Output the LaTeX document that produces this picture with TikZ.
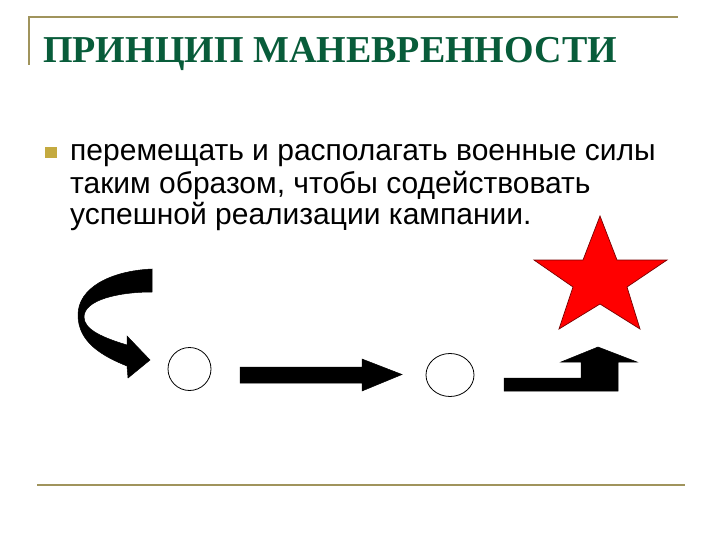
\documentclass[tikz,border=0pt]{standalone}
\usepackage{fontspec}
\usetikzlibrary{shapes.geometric}
\setmainfont{Liberation Serif}
\newfontfamily\bodyfont{Liberation Sans}
\definecolor{rulecol}{RGB}{160,148,92}
\definecolor{titlecol}{RGB}{8,92,58}
\definecolor{bulletcol}{RGB}{196,170,64}
\definecolor{starred}{RGB}{255,0,0}
\definecolor{stardraw}{RGB}{120,0,0}
\begin{document}
\begin{tikzpicture}[x=1pt,y=-1pt,
  rule/.style={draw=rulecol,line width=2pt},
  blackshape/.style={fill=black,draw=black,line width=0.5pt,line join=miter},
  spot/.style={ellipse,draw=black,line width=0.8pt,fill=white,inner sep=0pt,minimum width=43pt,minimum height=43pt}]
\useasboundingbox[fill=white] (0,0) rectangle (720,540);
% frame rules
\draw[rule] (29,65) -- (29,17) -- (678,17);
\draw[rule] (37,485) -- (685,485);
% title
\node[anchor=base west,inner sep=0pt,text=titlecol,font=\fontsize{38}{38}\selectfont\bfseries] (title) at (43,63) {ПРИНЦИП МАНЕВРЕННОСТИ};
% bullet
\fill[bulletcol] (45,147) rectangle (57,158);
\node[anchor=base west,inner sep=0pt,align=left,font=\bodyfont\fontsize{30}{32}\selectfont] (body) at (70,225)
  {перемещать и располагать военные силы\\таким образом, чтобы содействовать\\успешной реализации кампании.};
% curved arrow
\path[blackshape] (152,269) .. controls (110,271) and (78,288) .. (78,315)
  .. controls (78,342) and (102,356) .. (127,366)
  -- (128,378) -- (150,360) -- (127,336) -- (127,345)
  .. controls (104,338) and (84,330) .. (84,317)
  .. controls (84,300) and (118,292) .. (152,292) -- cycle;
% circles
\node[spot] (c1) at (189.5,369) {};
\node[spot,minimum width=48pt] (c2) at (450,375) {};
% straight arrow
\path[blackshape] (240,367) -- (362,367) -- (362,359) -- (402,374.5) -- (362,391) -- (362,383) -- (240,383) -- cycle;
% stepped arrow
\path[blackshape] (504,378) -- (581,378) -- (581,362) -- (561,362) -- (598,347) -- (637,362) -- (618,362) -- (618,391) -- (504,391) -- cycle;
% star
\path[fill=starred,draw=stardraw,line width=0.7pt,line join=miter] (600,216) -- (617,260) -- (667,260) -- (627,287) -- (640,329) -- (600,304) -- (559,329) -- (573,287) -- (534,260) -- (583,260) -- cycle;
\end{tikzpicture}
\end{document}
